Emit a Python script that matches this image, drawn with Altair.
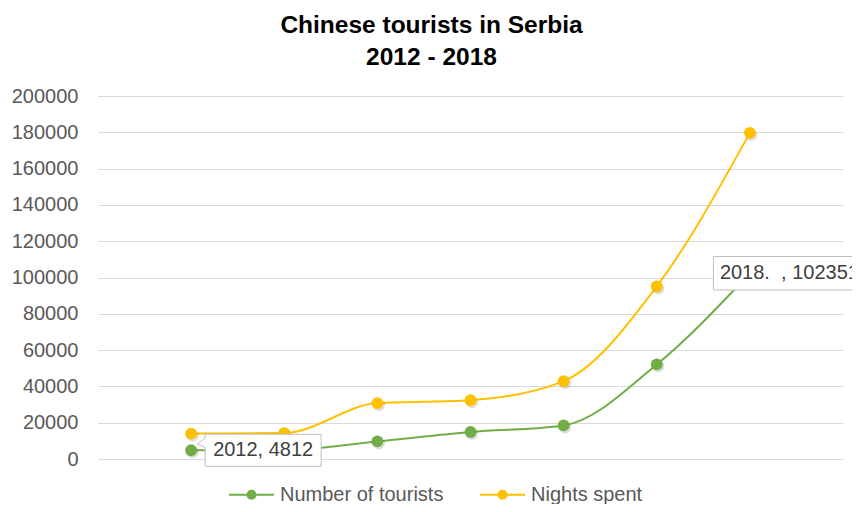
import altair as alt
import pandas as pd

# ---- data ----
years = [2012, 2013, 2014, 2015, 2016, 2017, 2018]
tourists = [4812, 5000, 9700, 14900, 18500, 52100, 102351]
nights = [14000, 14300, 30800, 32400, 42900, 95100, 179700]
series_names = ["Number of tourists", "Nights spent"]
series_colors = ["#70AD47", "#FFC000"]
y_ticks = [0, 20000, 40000, 60000, 80000, 100000, 120000, 140000, 160000, 180000, 200000]
label_years = [2012, 2018]
label_values = [4812, 102351]
label_texts = ["2012, 4812", "2018.\u00a0\u00a0, 102351"]
title_lines = ["Chinese tourists in Serbia", "2012 - 2018"]

rows = []
for name, vals in zip(series_names, [tourists, nights]):
    for yr, v in zip(years, vals):
        rows.append({"year": yr, "value": v, "series": name})
df = pd.DataFrame(rows)
lab0 = pd.DataFrame({"year": [label_years[0]], "value": [label_values[0]], "text": [label_texts[0]]})
lab1 = pd.DataFrame({"year": [label_years[1]], "value": [label_values[1]], "text": [label_texts[1]]})

FONT = "Liberation Sans"

x = alt.X("year:Q", scale=alt.Scale(domain=[2011, 2019], nice=False, zero=False), axis=None)
y = alt.Y(
    "value:Q",
    scale=alt.Scale(domain=[0, 200000], nice=False),
    axis=alt.Axis(
        values=y_ticks, format="d", title=None, ticks=False, tickSize=0, domain=False,
        labelPadding=20, labelFontSize=20, labelColor="#595959", labelFont=FONT,
        gridColor="#D9D9D9", gridWidth=1,
    ),
)

sym_path = ("M-1,0H1M0.18,0A0.18,0.18,0,1,1,-0.18,0A0.18,0.18,0,1,1,0.18,0Z")
legend = alt.Legend(
    title=None, orient="none", legendX=130, legendY=375, direction="horizontal",
    symbolType=sym_path, symbolSize=2025, symbolStrokeWidth=2,
    labelFontSize=20, labelColor="#595959", labelFont=FONT, labelOffset=5,
    labelLimit=400, columnPadding=32, padding=0,
)
cscale = alt.Scale(domain=series_names, range=series_colors)

base = alt.Chart(df)
lines = base.mark_line(interpolate="monotone", strokeWidth=2).encode(
    x=x, y=y, stroke=alt.Stroke("series:N", scale=cscale, legend=legend)
)
shadow = base.mark_point(filled=True, size=150, color="#000000", opacity=0.13,
                         xOffset=1.5, yOffset=2).encode(x=x, y=y)
points = base.mark_point(filled=True, size=140, opacity=1).encode(
    x=x, y=y, fill=alt.Fill("series:N", scale=cscale, legend=legend)
)

box0_path = "M-1,-0.276H1V0.276H-1V-0.052L-1.138,-0.103L-1,-0.207Z"
box0 = alt.Chart(lab0).mark_point(
    shape=box0_path, size=13456, filled=True, fill="white", stroke="#BFBFBF",
    strokeWidth=1, opacity=1, xOffset=72,
).encode(x=x, y=y)
text0 = alt.Chart(lab0).mark_text(
    align="left", baseline="middle", dx=22, fontSize=20, color="#404040", font=FONT
).encode(x=x, y=y, text="text:N")

box1_path = "M-1,-0.213H1V0.213H-1Z"
box1 = alt.Chart(lab1).mark_point(
    shape=box1_path, size=24649, filled=True, fill="white", stroke="#BFBFBF",
    strokeWidth=1, opacity=1, xOffset=42,
).encode(x=x, y=y)
text1 = alt.Chart(lab1).mark_text(
    align="left", baseline="middle", dx=-30, fontSize=20, color="#404040", font=FONT
).encode(x=x, y=y, text="text:N")

chart = alt.layer(lines, shadow, points, box0, text0, box1, text1).properties(
    width=745, height=363,
    padding={"left": 90, "top": 88, "right": 9, "bottom": 45},
    autosize=alt.AutoSizeParams(type="none"),
    title=alt.Title(title_lines, fontSize=24.5, font=FONT, fontWeight="bold", color="#000000",
                    lineHeight=31.5, anchor="middle", dx=-39, offset=16),
).configure(background="white", view=alt.ViewConfig(stroke=None))

chart.save("out.html", embed_options={"renderer": "svg", "actions": False})
